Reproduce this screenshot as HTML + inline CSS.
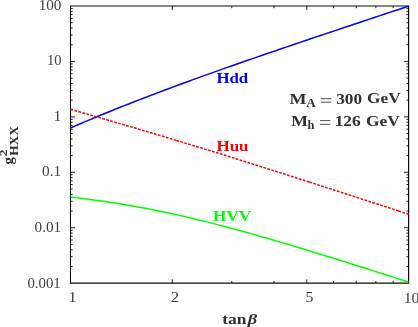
<!DOCTYPE html>
<html><head><meta charset="utf-8"><style>
html,body{margin:0;padding:0;background:#fff;overflow:hidden;}
svg{display:block;font-family:"Liberation Serif",serif;will-change:transform;}
</style></head><body>
<svg width="418" height="327" viewBox="0 0 418 327">
<rect width="418" height="327" fill="#fff"/>
<path d="M70.50,266.46 h2.2 M408.60,266.46 h-2.2 M70.50,256.70 h2.2 M408.60,256.70 h-2.2 M70.50,249.78 h2.2 M408.60,249.78 h-2.2 M70.50,244.41 h2.2 M408.60,244.41 h-2.2 M70.50,240.02 h2.2 M408.60,240.02 h-2.2 M70.50,236.31 h2.2 M408.60,236.31 h-2.2 M70.50,233.09 h2.2 M408.60,233.09 h-2.2 M70.50,230.26 h2.2 M408.60,230.26 h-2.2 M70.50,227.72 h4.5 M408.60,227.72 h-4.5 M70.50,211.03 h2.2 M408.60,211.03 h-2.2 M70.50,201.27 h2.2 M408.60,201.27 h-2.2 M70.50,194.35 h2.2 M408.60,194.35 h-2.2 M70.50,188.98 h2.2 M408.60,188.98 h-2.2 M70.50,184.59 h2.2 M408.60,184.59 h-2.2 M70.50,180.88 h2.2 M408.60,180.88 h-2.2 M70.50,177.66 h2.2 M408.60,177.66 h-2.2 M70.50,174.83 h2.2 M408.60,174.83 h-2.2 M70.50,172.29 h4.5 M408.60,172.29 h-4.5 M70.50,155.60 h2.2 M408.60,155.60 h-2.2 M70.50,145.84 h2.2 M408.60,145.84 h-2.2 M70.50,138.92 h2.2 M408.60,138.92 h-2.2 M70.50,133.55 h2.2 M408.60,133.55 h-2.2 M70.50,129.16 h2.2 M408.60,129.16 h-2.2 M70.50,125.45 h2.2 M408.60,125.45 h-2.2 M70.50,122.23 h2.2 M408.60,122.23 h-2.2 M70.50,119.40 h2.2 M408.60,119.40 h-2.2 M70.50,116.86 h4.5 M408.60,116.86 h-4.5 M70.50,100.17 h2.2 M408.60,100.17 h-2.2 M70.50,90.41 h2.2 M408.60,90.41 h-2.2 M70.50,83.49 h2.2 M408.60,83.49 h-2.2 M70.50,78.12 h2.2 M408.60,78.12 h-2.2 M70.50,73.73 h2.2 M408.60,73.73 h-2.2 M70.50,70.02 h2.2 M408.60,70.02 h-2.2 M70.50,66.80 h2.2 M408.60,66.80 h-2.2 M70.50,63.97 h2.2 M408.60,63.97 h-2.2 M70.50,61.43 h4.5 M408.60,61.43 h-4.5 M70.50,44.74 h2.2 M408.60,44.74 h-2.2 M70.50,34.98 h2.2 M408.60,34.98 h-2.2 M70.50,28.06 h2.2 M408.60,28.06 h-2.2 M70.50,22.69 h2.2 M408.60,22.69 h-2.2 M70.50,18.30 h2.2 M408.60,18.30 h-2.2 M70.50,14.59 h2.2 M408.60,14.59 h-2.2 M70.50,11.37 h2.2 M408.60,11.37 h-2.2 M70.50,8.54 h2.2 M408.60,8.54 h-2.2 M172.28,283.15 v-3.9 M172.28,6.00 v3.9 M231.81,283.15 v-2.2 M231.81,6.00 v2.2 M274.06,283.15 v-2.2 M274.06,6.00 v2.2 M306.82,283.15 v-3.9 M306.82,6.00 v3.9 M333.59,283.15 v-2.2 M333.59,6.00 v2.2 M356.23,283.15 v-2.2 M356.23,6.00 v2.2 M375.83,283.15 v-2.2 M375.83,6.00 v2.2 M393.13,283.15 v-2.2 M393.13,6.00 v2.2" stroke="#0c0c0c" stroke-width="0.9" fill="none"/>
<g stroke="#0c0c0c" fill="none">
<path d="M70.0,6.0 H409.2" stroke-width="1"/>
<path d="M70.0,283.15 H409.2" stroke-width="1.15"/>
<path d="M70.5,6.0 V283.15" stroke-width="1"/>
<path d="M408.6,6.0 V283.15" stroke-width="1.2"/>
</g>
<g fill="none" stroke-width="1.5">
<path d="M70.50,128.04 L75.40,125.89 L80.30,123.78 L85.20,121.68 L90.10,119.61 L95.00,117.56 L99.90,115.52 L104.80,113.51 L109.70,111.51 L114.60,109.53 L119.50,107.57 L124.40,105.62 L129.30,103.69 L134.20,101.77 L139.10,99.86 L144.00,97.97 L148.90,96.09 L153.80,94.22 L158.70,92.36 L163.60,90.52 L168.50,88.68 L173.40,86.86 L178.30,85.05 L183.20,83.24 L188.10,81.45 L193.00,79.67 L197.90,77.89 L202.80,76.12 L207.70,74.37 L212.60,72.61 L217.50,70.87 L222.40,69.14 L227.30,67.41 L232.20,65.68 L237.10,63.97 L242.00,62.26 L246.90,60.55 L251.80,58.85 L256.70,57.16 L261.60,55.47 L266.50,53.79 L271.40,52.11 L276.30,50.43 L281.20,48.76 L286.10,47.09 L291.00,45.43 L295.90,43.77 L300.80,42.11 L305.70,40.46 L310.60,38.80 L315.50,37.16 L320.40,35.51 L325.30,33.87 L330.20,32.22 L335.10,30.59 L340.00,28.95 L344.90,27.31 L349.80,25.68 L354.70,24.05 L359.60,22.42 L364.50,20.79 L369.40,19.16 L374.30,17.53 L379.20,15.91 L384.10,14.29 L389.00,12.66 L393.90,11.04 L398.80,9.42 L403.70,7.80 L408.60,6.18" stroke="#0000ff"/>
<path d="M70.50,109.26 L74.73,110.49 L78.96,111.71 L83.19,112.94 L87.41,114.17 L91.64,115.40 L95.87,116.63 L100.10,117.86 L104.33,119.09 L108.56,120.32 L112.78,121.55 L117.01,122.79 L121.24,124.03 L125.47,125.27 L129.70,126.51 L133.93,127.75 L138.15,129.00 L142.38,130.25 L146.61,131.50 L150.84,132.76 L155.07,134.02 L159.30,135.28 L163.52,136.55 L167.75,137.82 L171.98,139.09 L176.21,140.37 L176.35,140.41" stroke="#ff0000" stroke-dasharray="2.7 1.44"/>
<path d="M176.35,140.41 L180.44,141.65 L184.67,142.93 L188.89,144.21 L193.12,145.50 L197.35,146.80 L201.58,148.09 L205.81,149.39 L210.04,150.70 L214.26,152.00 L218.49,153.31 L222.72,154.63 L226.95,155.94 L231.18,157.26 L235.41,158.58 L239.63,159.91 L243.86,161.23 L248.09,162.56 L252.32,163.89 L256.55,165.23 L260.78,166.57 L265.00,167.91 L269.23,169.25 L273.46,170.59 L277.69,171.94 L281.92,173.28 L286.15,174.63 L290.37,175.99 L294.60,177.34 L298.83,178.69 L303.06,180.05 L307.29,181.41 L309.30,182.05" stroke="#ff0000" stroke-dasharray="2.7 1.44"/>
<path d="M309.30,182.05 L311.52,182.77 L315.75,184.13 L319.97,185.49 L324.20,186.85 L328.43,188.22 L332.66,189.58 L336.89,190.95 L341.12,192.32 L345.34,193.69 L349.57,195.06 L353.80,196.43 L358.03,197.80 L362.26,199.17 L366.49,200.54 L370.71,201.92 L374.94,203.29 L379.17,204.67 L383.40,206.04 L387.63,207.42 L391.86,208.80 L396.08,210.17 L398.51,210.96" stroke="#ff0000" stroke-dasharray="2.7 1.44"/>
<path d="M398.51,210.96 L400.31,211.55 L404.54,212.93 L408.60,214.25" stroke="#ff0000" stroke-dasharray="2.7 1.44"/>
<path d="M70.50,197.05 L75.40,197.63 L80.30,198.24 L85.20,198.86 L90.10,199.50 L95.00,200.16 L99.90,200.84 L104.80,201.55 L109.70,202.28 L114.60,203.03 L119.50,203.80 L124.40,204.61 L129.30,205.43 L134.20,206.29 L139.10,207.17 L144.00,208.07 L148.90,209.01 L153.80,209.96 L158.70,210.95 L163.60,211.96 L168.50,213.00 L173.40,214.06 L178.30,215.14 L183.20,216.25 L188.10,217.38 L193.00,218.54 L197.90,219.71 L202.80,220.91 L207.70,222.13 L212.60,223.37 L217.50,224.62 L222.40,225.90 L227.30,227.19 L232.20,228.50 L237.10,229.83 L242.00,231.17 L246.90,232.52 L251.80,233.89 L256.70,235.28 L261.60,236.67 L266.50,238.08 L271.40,239.50 L276.30,240.93 L281.20,242.37 L286.10,243.83 L291.00,245.29 L295.90,246.75 L300.80,248.23 L305.70,249.72 L310.60,251.21 L315.50,252.71 L320.40,254.21 L325.30,255.73 L330.20,257.24 L335.10,258.77 L340.00,260.30 L344.90,261.83 L349.80,263.37 L354.70,264.91 L359.60,266.46 L364.50,268.01 L369.40,269.56 L374.30,271.12 L379.20,272.68 L384.10,274.24 L389.00,275.80 L393.90,277.37 L398.80,278.94 L403.70,280.52 L408.60,282.09" stroke="#00ff00"/>
</g>
<text transform="translate(38.69,9.80) scale(1.045,1)" font-size="14.5" font-weight="normal" fill="#404040">100</text>
<text transform="translate(46.95,65.03) scale(1.004,1)" font-size="14.5" font-weight="normal" fill="#404040">10</text>
<text transform="translate(53.53,120.96) scale(1.093,1)" font-size="14.5" font-weight="normal" fill="#404040">1</text>
<text transform="translate(41.97,176.39) scale(1.057,1)" font-size="14.5" font-weight="normal" fill="#404040">0.1</text>
<text transform="translate(34.58,231.82) scale(1.046,1)" font-size="14.5" font-weight="normal" fill="#404040">0.01</text>
<text transform="translate(27.39,287.65) scale(1.024,1)" font-size="14.5" font-weight="normal" fill="#404040">0.001</text>
<text transform="translate(68.41,302.00) scale(1.112,1)" font-size="14.5" font-weight="normal" fill="#404040">1</text>
<text transform="translate(170.78,302.00) scale(1.157,1)" font-size="14.5" font-weight="normal" fill="#404040">2</text>
<text transform="translate(305.44,302.00) scale(1.096,1)" font-size="14.5" font-weight="normal" fill="#404040">5</text>
<text transform="translate(403.64,302.60) scale(1.090,1)" font-size="14.5" font-weight="normal" fill="#404040">10</text>
<text transform="translate(216.42,82.60) scale(1.108,1)" font-size="15.2" font-weight="bold" fill="#0000ff">Hdd</text>
<text transform="translate(216.42,150.90) scale(1.118,1)" font-size="15.2" font-weight="bold" fill="#ff0000">Huu</text>
<text transform="translate(212.92,221.20) scale(1.133,1)" font-size="15.2" font-weight="bold" fill="#00ff00">HVV</text>
<text transform="translate(289.60,103.50) scale(1.182,1)" font-size="15.2" font-weight="bold" fill="#303030">M</text>
<text transform="translate(306.16,106.50) scale(1.115,1)" font-size="11.8" font-weight="bold" fill="#303030">A</text>
<text transform="translate(336.19,103.50) scale(1.142,1)" font-size="15.2" font-weight="bold" fill="#303030">300</text>
<text transform="translate(367.05,103.40) scale(1.139,1)" font-size="15.2" font-weight="bold" fill="#303030">GeV</text>
<text transform="translate(291.31,125.80) scale(1.167,1)" font-size="15.2" font-weight="bold" fill="#303030">M</text>
<text transform="translate(307.53,128.50) scale(1.067,1)" font-size="11.6" font-weight="bold" fill="#303030">h</text>
<text transform="translate(334.67,125.80) scale(1.146,1)" font-size="15.2" font-weight="bold" fill="#303030">126</text>
<text transform="translate(365.94,125.70) scale(1.146,1)" font-size="15.2" font-weight="bold" fill="#303030">GeV</text>
<text transform="translate(222.31,323.60) scale(1.149,1)" font-size="15.2" font-weight="bold" fill="#303030">tan</text>
<text transform="translate(247.66,323.60) scale(1.225,1)" font-size="15" font-weight="bold" font-style="italic" fill="#303030">β</text>
<path d="M320.8,98.7 H331.3 M320.8,102.2 H331.3 M320.0,120.6 H330.4 M320.0,124.3 H330.4" stroke="#303030" stroke-width="0.85" fill="none"/>
<g transform="translate(12.8,164) rotate(-90)">
<text transform="translate(-0.39,0.00) scale(1.042,1)" font-size="14.2" font-weight="bold" fill="#303030">g</text>
<text transform="translate(7.85,-6.10) scale(1.294,1)" font-size="10.5" font-weight="bold" fill="#303030">2</text>
<text transform="translate(8.13,5.30) scale(1.071,1)" font-size="12.6" font-weight="bold" fill="#303030">HXX</text>
</g>
</svg>
</body></html>
